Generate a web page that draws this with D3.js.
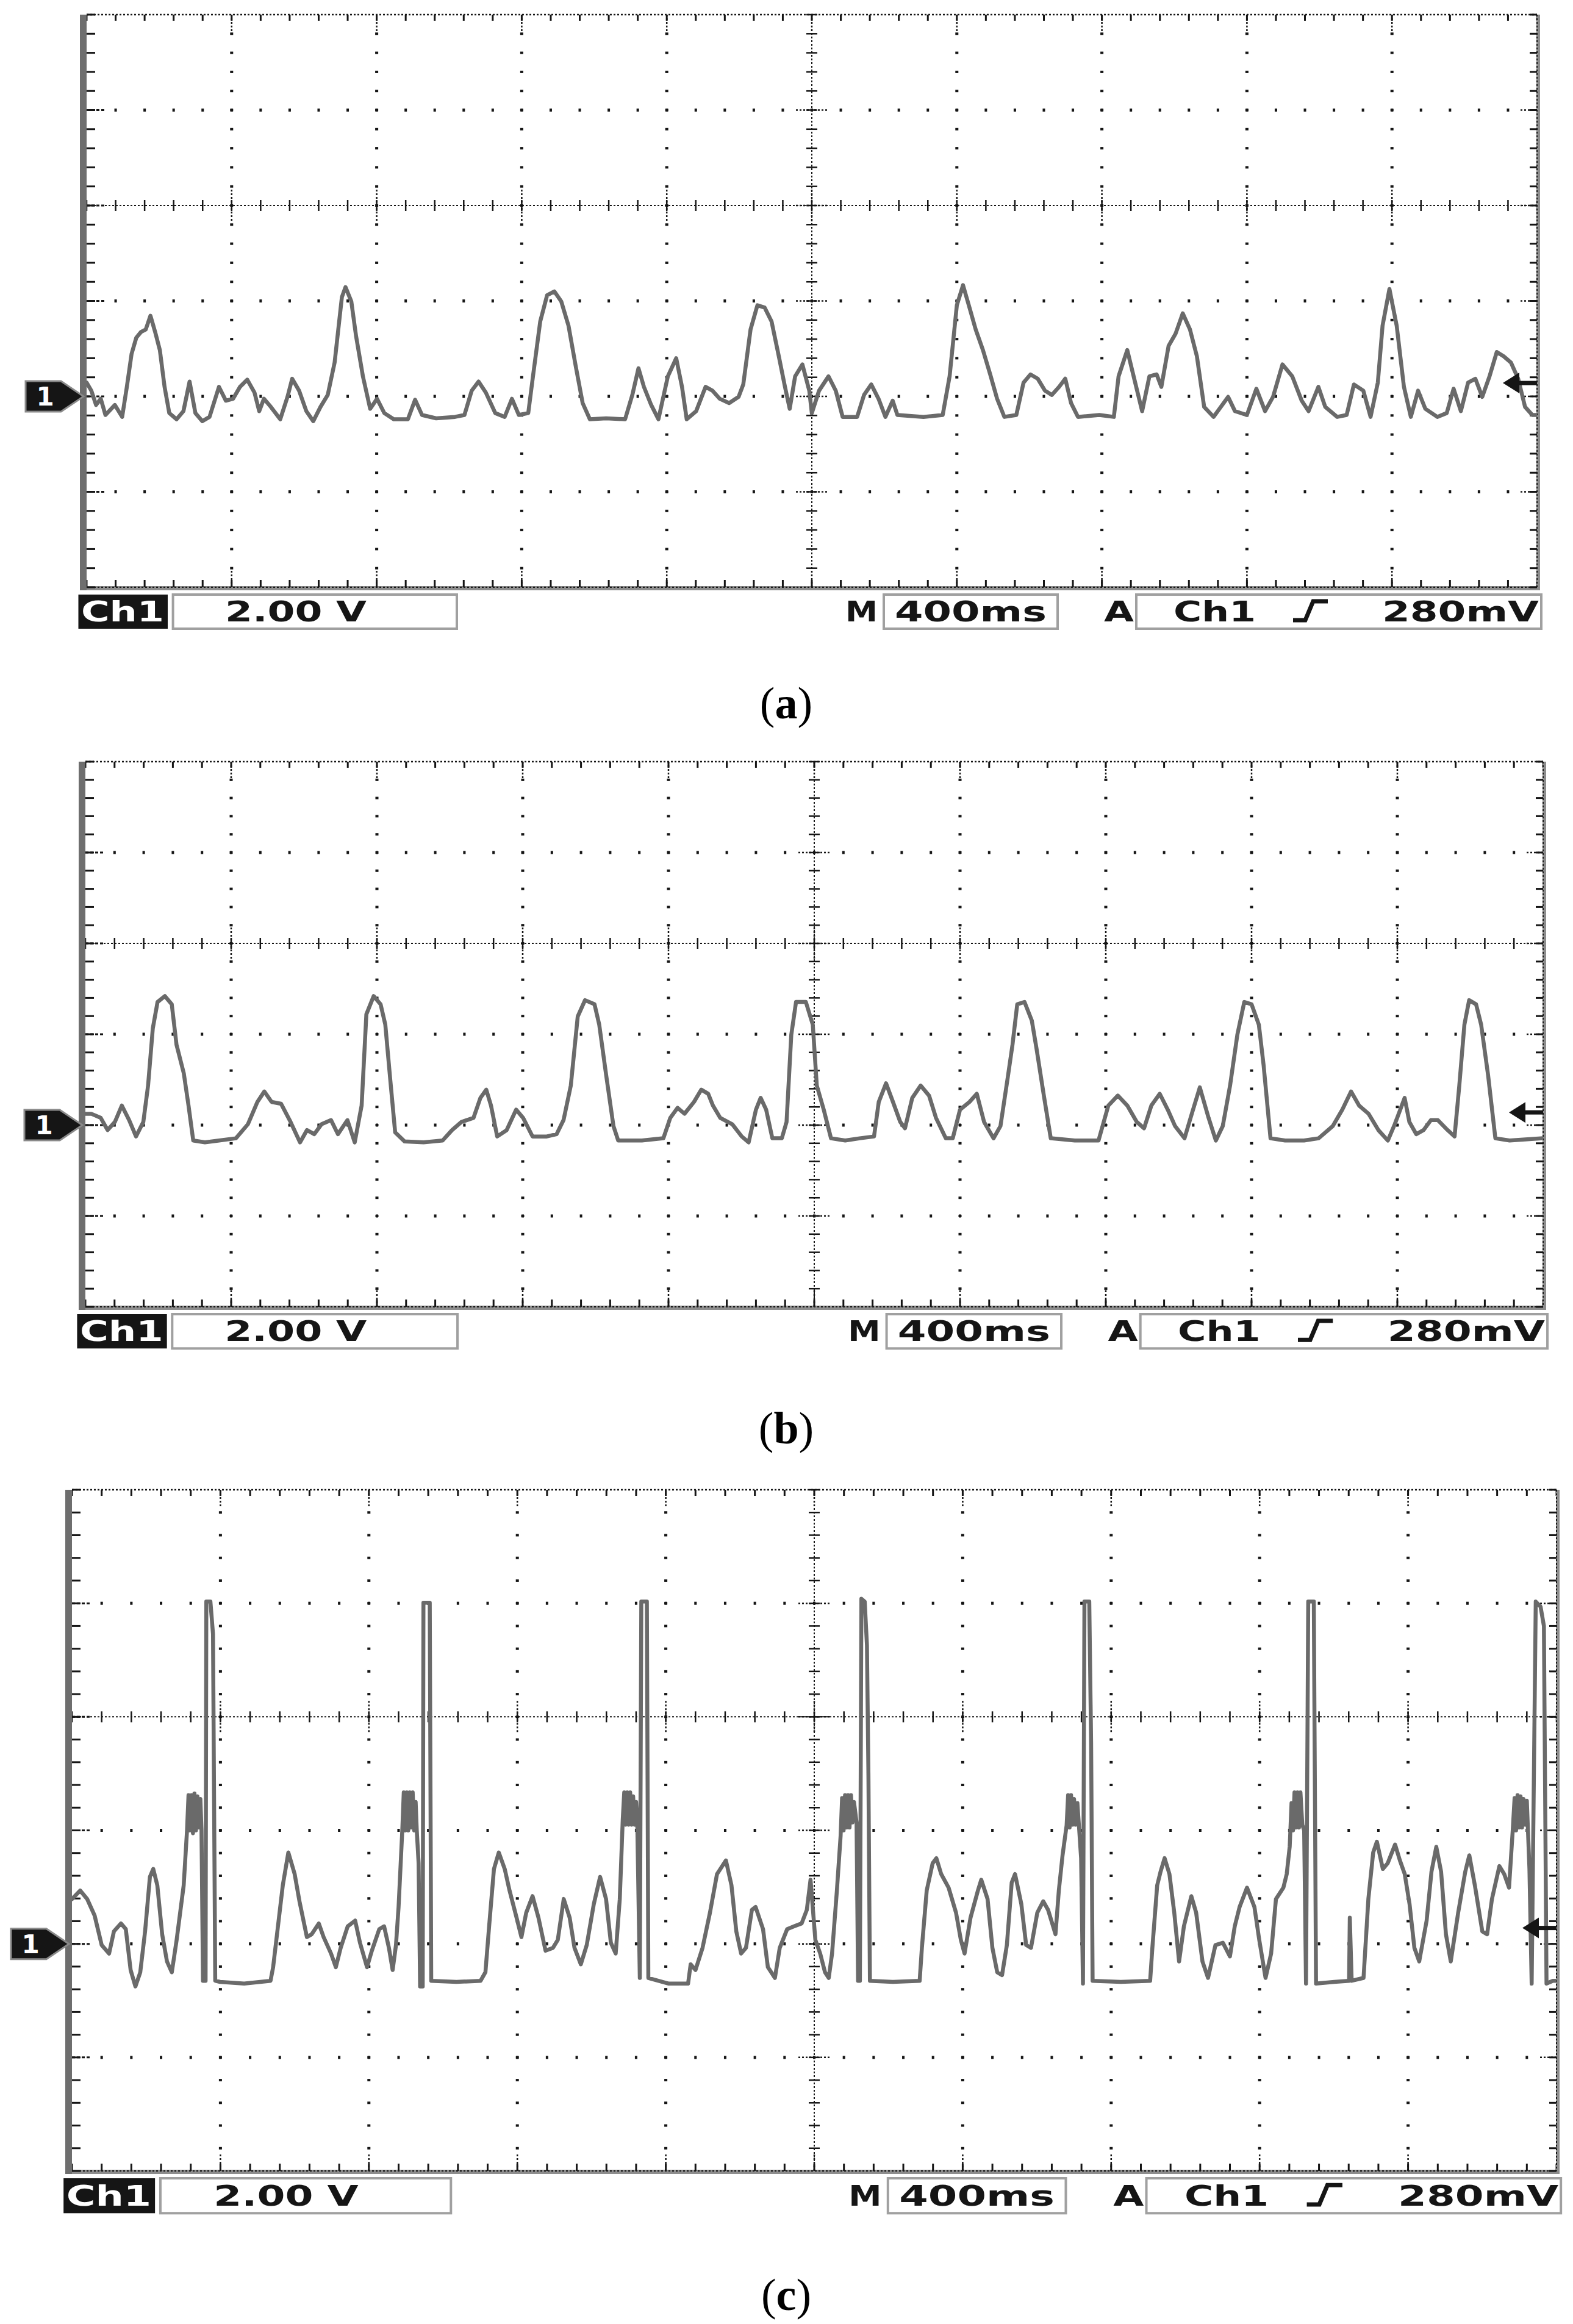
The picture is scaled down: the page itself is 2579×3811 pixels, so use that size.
<!DOCTYPE html>
<html><head><meta charset="utf-8">
<script src="https://cdn.jsdelivr.net/npm/d3@7/dist/d3.min.js"></script>
<style>html,body{margin:0;padding:0;background:#fff}</style>
</head><body>
<svg id="chart" width="2579" height="3811" xmlns="http://www.w3.org/2000/svg"></svg>
<script>
// ---- data: [time (s), voltage (V)] read from the three scope captures ----
const traceA = [[0.000,0.29],[0.013,0.12],[0.026,-0.18],[0.039,-0.05],[0.052,-0.39],[0.078,-0.18],[0.098,-0.43],[0.111,0.20],[0.124,0.89],[0.137,1.23],[0.150,1.35],[0.163,1.40],[0.176,1.69],[0.189,1.35],[0.202,0.97],[0.215,0.20],[0.228,-0.35],[0.248,-0.48],[0.267,-0.31],[0.284,0.31],[0.300,-0.35],[0.319,-0.52],[0.339,-0.43],[0.365,0.20],[0.384,-0.09],[0.404,-0.05],[0.423,0.20],[0.443,0.35],[0.463,0.08],[0.476,-0.31],[0.489,-0.05],[0.508,-0.22],[0.534,-0.48],[0.554,-0.01],[0.567,0.37],[0.586,0.12],[0.606,-0.31],[0.625,-0.52],[0.645,-0.22],[0.665,0.03],[0.684,0.71],[0.704,2.08],[0.714,2.29],[0.730,1.99],[0.743,1.27],[0.762,0.42],[0.782,-0.26],[0.801,-0.05],[0.821,-0.35],[0.847,-0.48],[0.886,-0.48],[0.906,-0.07],[0.925,-0.39],[0.964,-0.46],[1.016,-0.43],[1.042,-0.39],[1.062,0.12],[1.081,0.31],[1.101,0.08],[1.127,-0.35],[1.153,-0.43],[1.173,-0.05],[1.192,-0.39],[1.218,-0.35],[1.231,0.42],[1.251,1.57],[1.270,2.12],[1.290,2.20],[1.309,1.99],[1.329,1.48],[1.349,0.63],[1.368,-0.14],[1.388,-0.48],[1.433,-0.46],[1.485,-0.48],[1.505,0.03],[1.522,0.59],[1.537,0.20],[1.557,-0.18],[1.577,-0.48],[1.603,0.42],[1.626,0.80],[1.642,0.20],[1.655,-0.48],[1.681,-0.31],[1.707,0.20],[1.726,0.12],[1.746,-0.05],[1.772,-0.14],[1.798,-0.01],[1.811,0.25],[1.831,1.40],[1.850,1.91],[1.870,1.86],[1.889,1.57],[1.909,0.84],[1.926,0.20],[1.939,-0.26],[1.954,0.42],[1.974,0.67],[1.993,0.12],[2.000,-0.35],[2.020,0.12],[2.046,0.42],[2.066,0.12],[2.085,-0.43],[2.125,-0.43],[2.144,0.03],[2.164,0.25],[2.184,-0.05],[2.203,-0.43],[2.223,-0.09],[2.236,-0.39],[2.308,-0.43],[2.361,-0.39],[2.380,0.42],[2.400,1.91],[2.417,2.33],[2.433,1.91],[2.452,1.40],[2.472,0.97],[2.492,0.46],[2.511,-0.05],[2.531,-0.43],[2.564,-0.39],[2.584,0.29],[2.603,0.46],[2.623,0.37],[2.643,0.12],[2.662,0.03],[2.682,0.20],[2.699,0.37],[2.715,-0.14],[2.734,-0.43],[2.793,-0.39],[2.833,-0.43],[2.846,0.42],[2.870,0.97],[2.885,0.50],[2.911,-0.31],[2.931,0.42],[2.951,0.46],[2.964,0.20],[2.984,1.06],[3.003,1.31],[3.023,1.74],[3.043,1.40],[3.062,0.84],[3.082,-0.22],[3.108,-0.43],[3.148,-0.01],[3.167,-0.31],[3.200,-0.39],[3.226,0.16],[3.250,-0.31],[3.272,-0.01],[3.298,0.67],[3.325,0.42],[3.351,-0.09],[3.370,-0.31],[3.397,0.20],[3.416,-0.22],[3.449,-0.43],[3.475,-0.39],[3.495,0.25],[3.521,0.12],[3.541,-0.43],[3.561,0.29],[3.574,1.48],[3.593,2.25],[3.613,1.48],[3.633,0.20],[3.652,-0.43],[3.672,0.12],[3.692,-0.26],[3.725,-0.43],[3.751,-0.35],[3.770,0.16],[3.790,-0.31],[3.810,0.29],[3.830,0.37],[3.849,-0.01],[3.869,0.42],[3.889,0.93],[3.908,0.84],[3.928,0.71],[3.948,0.37],[3.967,-0.22],[3.987,-0.39],[4.000,-0.39]];

const traceB = [[0.000,0.25],[0.016,0.25],[0.042,0.16],[0.061,-0.11],[0.081,0.07],[0.100,0.43],[0.120,0.11],[0.139,-0.25],[0.159,0.07],[0.172,0.87],[0.185,2.13],[0.198,2.71],[0.218,2.84],[0.237,2.66],[0.250,1.77],[0.270,1.14],[0.283,0.43],[0.296,-0.34],[0.328,-0.38],[0.367,-0.34],[0.413,-0.29],[0.446,0.02],[0.472,0.51],[0.491,0.74],[0.511,0.51],[0.537,0.47],[0.563,0.07],[0.589,-0.38],[0.608,-0.11],[0.628,-0.20],[0.648,0.02],[0.674,0.11],[0.693,-0.20],[0.719,0.11],[0.739,-0.38],[0.758,0.43],[0.771,2.44],[0.791,2.84],[0.810,2.66],[0.823,2.21],[0.836,1.05],[0.850,-0.16],[0.876,-0.36],[0.928,-0.38],[0.980,-0.34],[1.006,-0.11],[1.032,0.07],[1.065,0.16],[1.084,0.60],[1.100,0.78],[1.113,0.43],[1.130,-0.25],[1.156,-0.11],[1.182,0.34],[1.201,0.16],[1.227,-0.25],[1.266,-0.25],[1.293,-0.20],[1.312,0.11],[1.332,0.87],[1.351,2.39],[1.371,2.75],[1.397,2.66],[1.410,2.21],[1.429,1.10],[1.449,-0.02],[1.462,-0.34],[1.527,-0.34],[1.586,-0.29],[1.605,0.16],[1.625,0.38],[1.644,0.25],[1.670,0.51],[1.690,0.78],[1.709,0.69],[1.722,0.43],[1.742,0.16],[1.775,0.02],[1.801,-0.25],[1.820,-0.38],[1.840,0.34],[1.853,0.60],[1.868,0.34],[1.885,-0.29],[1.911,-0.29],[1.924,0.07],[1.937,1.99],[1.950,2.71],[1.977,2.71],[1.996,2.21],[2.007,0.87],[2.026,0.34],[2.046,-0.29],[2.085,-0.34],[2.125,-0.29],[2.164,-0.25],[2.177,0.51],[2.197,0.92],[2.216,0.51],[2.236,0.07],[2.249,-0.07],[2.269,0.60],[2.292,0.87],[2.315,0.65],[2.334,0.16],[2.361,-0.29],[2.380,-0.29],[2.400,0.34],[2.426,0.51],[2.446,0.69],[2.466,0.07],[2.492,-0.29],[2.511,-0.02],[2.531,1.05],[2.544,1.77],[2.557,2.66],[2.577,2.71],[2.597,2.30],[2.610,1.68],[2.630,0.65],[2.649,-0.29],[2.715,-0.34],[2.780,-0.34],[2.807,0.43],[2.833,0.65],[2.859,0.43],[2.885,0.07],[2.905,-0.07],[2.925,0.43],[2.948,0.69],[2.970,0.34],[2.990,-0.02],[3.016,-0.29],[3.036,0.25],[3.058,0.83],[3.082,0.16],[3.102,-0.34],[3.121,-0.02],[3.141,0.87],[3.161,1.99],[3.180,2.71],[3.200,2.66],[3.220,2.21],[3.233,1.32],[3.252,-0.29],[3.292,-0.34],[3.344,-0.34],[3.384,-0.29],[3.423,-0.02],[3.449,0.34],[3.473,0.74],[3.495,0.43],[3.521,0.25],[3.548,-0.11],[3.574,-0.34],[3.593,0.02],[3.620,0.60],[3.633,0.07],[3.652,-0.20],[3.672,-0.11],[3.692,0.11],[3.711,0.11],[3.738,-0.11],[3.757,-0.25],[3.770,0.87],[3.784,2.21],[3.797,2.75],[3.816,2.66],[3.830,2.21],[3.849,1.10],[3.869,-0.29],[3.908,-0.34],[4.000,-0.29]];

const traceC = [[0.000,0.79],[0.022,0.94],[0.041,0.79],[0.061,0.50],[0.080,-0.02],[0.100,-0.17],[0.113,0.22],[0.132,0.36],[0.145,0.26],[0.158,-0.46],[0.171,-0.75],[0.184,-0.50],[0.197,0.22],[0.210,1.18],[0.219,1.32],[0.230,1.03],[0.243,0.17],[0.256,-0.31],[0.269,-0.50],[0.282,0.07],[0.301,1.03],
[0.310,2.00],[0.314,2.62],[0.318,2.00],[0.322,2.62],[0.326,1.95],[0.330,2.65],[0.334,2.00],[0.338,2.60],[0.342,2.05],[0.346,2.55],[0.349,2.00],
[0.353,-0.65],[0.360,-0.65],[0.362,6.03],[0.373,6.03],[0.380,5.46],[0.386,-0.65],[0.399,-0.67],[0.464,-0.70],[0.535,-0.65],[0.542,-0.41],[0.555,0.31],[0.568,1.03],[0.583,1.61],[0.600,1.23],[0.613,0.75],[0.633,0.12],[0.646,0.17],[0.665,0.36],[0.678,0.12],[0.698,-0.17],[0.711,-0.41],[0.724,-0.07],[0.743,0.31],[0.763,0.41],[0.776,0.02],[0.795,-0.41],[0.808,-0.12],[0.828,0.26],[0.841,0.31],[0.854,-0.07],[0.864,-0.46],[0.873,-0.02],[0.880,0.65],
[0.890,2.00],[0.894,2.67],[0.898,2.00],[0.902,2.67],[0.906,2.00],[0.910,2.67],[0.914,2.05],[0.918,2.67],[0.922,2.00],[0.926,2.50],[0.929,2.00],[0.934,1.42],
[0.938,-0.75],[0.945,-0.75],[0.947,6.01],[0.964,6.01],[0.968,-0.65],[1.036,-0.67],[1.101,-0.65],[1.114,-0.50],[1.124,0.31],[1.137,1.32],[1.150,1.61],[1.166,1.32],[1.179,0.94],[1.198,0.46],[1.211,0.12],[1.224,0.55],[1.241,0.84],[1.257,0.46],[1.276,-0.12],[1.296,-0.07],[1.309,0.07],[1.325,0.79],[1.341,0.46],[1.354,-0.07],[1.371,-0.36],[1.387,-0.02],[1.406,0.70],[1.423,1.18],[1.439,0.79],[1.452,0.02],[1.465,-0.17],[1.476,0.79],
[1.484,2.19],[1.488,2.67],[1.492,2.10],[1.496,2.67],[1.500,2.10],[1.504,2.67],[1.508,2.10],[1.512,2.60],[1.516,2.10],[1.520,2.50],[1.523,2.19],
[1.530,-0.60],[1.534,6.03],[1.549,6.03],[1.553,-0.60],[1.608,-0.70],[1.660,-0.70],[1.667,-0.36],[1.680,-0.46],[1.699,-0.07],[1.719,0.55],[1.738,1.23],[1.762,1.47],[1.777,1.03],[1.790,0.22],[1.803,-0.17],[1.816,-0.07],[1.832,0.60],[1.842,0.65],[1.862,0.26],[1.875,-0.41],[1.894,-0.60],[1.907,-0.07],[1.927,0.26],[1.946,0.31],[1.966,0.36],[1.980,0.60],[1.990,1.13],[2.003,0.07],[2.016,-0.17],[2.029,-0.50],[2.039,-0.60],[2.048,-0.17],[2.061,0.94],
[2.071,1.90],[2.075,2.57],[2.079,2.00],[2.083,2.62],[2.087,2.05],[2.091,2.62],[2.095,2.05],[2.099,2.62],[2.103,2.14],[2.107,2.50],[2.114,2.14],
[2.118,-0.65],[2.123,-0.65],[2.127,6.08],[2.136,6.03],[2.142,5.26],[2.146,2.96],[2.150,-0.65],[2.212,-0.67],[2.284,-0.65],[2.290,-0.07],[2.303,0.94],[2.319,1.42],[2.329,1.51],[2.342,1.23],[2.362,0.99],[2.382,0.55],[2.395,0.07],[2.405,-0.17],[2.421,0.46],[2.441,0.94],[2.450,1.13],[2.467,0.79],[2.480,-0.07],[2.493,-0.50],[2.506,-0.55],[2.519,-0.02],[2.532,1.08],[2.541,1.23],[2.558,0.70],[2.571,-0.02],[2.584,-0.07],[2.601,0.55],[2.617,0.75],[2.630,0.60],[2.650,0.17],[2.659,0.94],[2.669,1.56],
[2.680,2.09],[2.684,2.62],[2.688,2.05],[2.692,2.62],[2.696,2.10],[2.700,2.55],[2.704,2.10],[2.709,2.48],[2.714,2.00],[2.719,1.51],
[2.724,-0.70],[2.728,6.03],[2.741,6.03],[2.746,3.53],[2.750,-0.65],[2.826,-0.67],[2.905,-0.65],[2.911,-0.07],[2.924,1.03],[2.933,1.27],[2.944,1.51],[2.957,1.23],[2.970,0.55],[2.983,-0.31],[2.996,0.31],[3.016,0.84],[3.029,0.55],[3.046,-0.31],[3.061,-0.60],[3.081,-0.02],[3.101,0.02],[3.120,-0.22],[3.133,0.31],[3.146,0.65],[3.166,0.99],[3.186,0.65],[3.199,0.07],[3.216,-0.60],[3.231,-0.17],[3.244,0.79],[3.264,0.99],[3.273,1.23],
[3.281,1.71],[3.286,2.48],[3.290,2.00],[3.294,2.67],[3.298,2.05],[3.302,2.67],[3.306,2.05],[3.310,2.67],[3.315,2.10],[3.320,2.00],
[3.325,-0.70],[3.331,6.03],[3.346,6.03],[3.352,-0.70],[3.401,-0.67],[3.441,-0.65],[3.443,0.46],[3.448,-0.65],[3.480,-0.60],[3.493,0.79],[3.506,1.61],[3.516,1.80],[3.532,1.32],[3.545,1.42],[3.565,1.75],[3.578,1.47],[3.591,1.23],[3.604,0.70],[3.617,-0.07],[3.630,-0.31],[3.650,0.41],[3.663,1.27],[3.676,1.71],[3.689,1.27],[3.702,0.17],[3.715,-0.31],[3.735,0.55],[3.754,1.27],[3.765,1.56],[3.780,1.03],[3.800,0.22],[3.813,0.17],[3.826,0.79],[3.846,1.37],[3.859,1.23],[3.872,0.99],
[3.882,2.00],[3.887,2.57],[3.891,2.00],[3.895,2.62],[3.899,2.05],[3.903,2.60],[3.907,2.05],[3.911,2.55],[3.915,2.10],[3.920,2.52],[3.927,1.32],
[3.933,-0.70],[3.944,6.03],[3.957,5.94],[3.966,5.60],[3.973,-0.70],[3.990,-0.65],[4.000,-0.65]];

// graticule: 10 horizontal divisions of 400 ms, 6 vertical divisions of 2 V
const timeGrid = [0, 0.4, 0.8, 1.2, 1.6, 2.0, 2.4, 2.8, 3.2, 3.6, 4.0];
const voltGrid = [-4, -2, 0, 2, 4, 6, 8];
const captions = ["a", "b", "c"];
const chName = "Ch1";
const voltsPerDiv = "2.00 V";
const timebase = "400ms";
const trigLevelText = "280mV";
const trigLevel = 0.28;   // V
const groundLevel = 0;    // V

// ---- layout ----
const svg = d3.select('#chart');
svg.append('rect').attr('width', 2579).attr('height', 3811).attr('fill', '#fff');

const panels = [
  {trace: traceA, left: 142, right: 2520, top: 24,   bottom: 963,  capY: 1178},
  {trace: traceB, left: 140, right: 2530, top: 1249, bottom: 2143, capY: 2367},
  {trace: traceC, left: 118, right: 2552, top: 2443, bottom: 3560, capY: 3788}
];

const INK = '#151515';

function drawPanel(p, i) {
  const g = svg.append('g');
  const x = d3.scaleLinear().domain([timeGrid[0], timeGrid[timeGrid.length-1]]).range([p.left, p.right]);
  const y = d3.scaleLinear().domain([voltGrid[0], voltGrid[voltGrid.length-1]]).range([p.bottom, p.top]);
  const tStep = (timeGrid[1]-timeGrid[0]) / 5, vStep = (voltGrid[1]-voltGrid[0]) / 5;
  const tMinor = d3.range(0, 51).map(k => timeGrid[0] + k*tStep);
  const vMinor = d3.range(0, 31).map(k => voltGrid[0] + k*vStep);
  const tMid = timeGrid[5], vMid = voltGrid[4];
  const interiorT = timeGrid.slice(1, -1), interiorV = voltGrid.slice(1, -1);

  // dotted major grid lines
  interiorT.filter(t => t !== tMid).forEach(t => {
    g.selectAll(null).data(vMinor.slice(1, -1)).enter().append('rect')
      .attr('x', x(t)-2.5).attr('y', v => y(v)-2).attr('width', 5).attr('height', 4).attr('fill', INK);
  });
  interiorV.filter(v => v !== vMid).forEach(v => {
    g.selectAll(null).data(tMinor.slice(1, -1)).enter().append('rect')
      .attr('x', t => x(t)-2).attr('y', y(v)-2.5).attr('width', 4).attr('height', 5).attr('fill', INK);
  });

  // centre cross-hair lines with minor ticks
  g.append('line').attr('x1', p.left).attr('x2', p.right).attr('y1', y(vMid)).attr('y2', y(vMid))
    .attr('stroke', INK).attr('stroke-width', 2).attr('stroke-dasharray', '3,3');
  g.selectAll(null).data(tMinor).enter().append('line')
    .attr('x1', t => x(t)).attr('x2', t => x(t)).attr('y1', y(vMid)-9).attr('y2', y(vMid)+9)
    .attr('stroke', INK).attr('stroke-width', 2.5);
  g.selectAll(null).data(interiorT).enter().append('line')
    .attr('x1', t => x(t)).attr('x2', t => x(t)).attr('y1', y(vMid)-26).attr('y2', y(vMid)+26)
    .attr('stroke', INK).attr('stroke-width', 2.5).attr('stroke-dasharray', '3,3');
  g.append('line').attr('x1', x(tMid)).attr('x2', x(tMid)).attr('y1', p.top).attr('y2', p.bottom)
    .attr('stroke', INK).attr('stroke-width', 2).attr('stroke-dasharray', '3,3');
  g.selectAll(null).data(vMinor).enter().append('line')
    .attr('y1', v => y(v)).attr('y2', v => y(v)).attr('x1', x(tMid)-9).attr('x2', x(tMid)+9)
    .attr('stroke', INK).attr('stroke-width', 2.5);
  g.selectAll(null).data(interiorV).enter().append('line')
    .attr('y1', v => y(v)).attr('y2', v => y(v)).attr('x1', x(tMid)-26).attr('x2', x(tMid)+26)
    .attr('stroke', INK).attr('stroke-width', 2.5).attr('stroke-dasharray', '3,3');

  // frame
  g.append('line').attr('x1', p.left).attr('x2', p.right).attr('y1', p.top).attr('y2', p.top)
    .attr('stroke', INK).attr('stroke-width', 2.5).attr('stroke-dasharray', '3,3');
  g.selectAll(null).data(tMinor).enter().append('line')
    .attr('x1', t => x(t)).attr('x2', t => x(t)).attr('y1', p.top).attr('y2', p.top+10)
    .attr('stroke', INK).attr('stroke-width', 3);
  g.append('rect').attr('x', p.left).attr('y', p.bottom-2).attr('width', p.right-p.left+4).attr('height', 7).attr('fill', '#8d8d8d');
  g.append('line').attr('x1', p.left).attr('x2', p.right).attr('y1', p.bottom).attr('y2', p.bottom)
    .attr('stroke', INK).attr('stroke-width', 2).attr('stroke-dasharray', '3,3');
  g.selectAll(null).data(tMinor).enter().append('line')
    .attr('x1', t => x(t)).attr('x2', t => x(t)).attr('y1', p.bottom).attr('y2', p.bottom-12)
    .attr('stroke', INK).attr('stroke-width', 3);
  g.selectAll(null).data(interiorT).enter().append('line')
    .attr('x1', t => x(t)).attr('x2', t => x(t)).attr('y1', p.bottom).attr('y2', p.bottom-28)
    .attr('stroke', INK).attr('stroke-width', 2.5).attr('stroke-dasharray', '3,3');
  g.selectAll(null).data(interiorT).enter().append('line')
    .attr('x1', t => x(t)).attr('x2', t => x(t)).attr('y1', p.top).attr('y2', p.top+28)
    .attr('stroke', INK).attr('stroke-width', 2.5).attr('stroke-dasharray', '3,3');
  g.append('rect').attr('x', p.left-11).attr('y', p.top).attr('width', 11).attr('height', p.bottom-p.top+5).attr('fill', '#6e6e6e');
  g.selectAll(null).data(vMinor).enter().append('line')
    .attr('y1', v => y(v)).attr('y2', v => y(v)).attr('x1', p.left).attr('x2', p.left+14)
    .attr('stroke', INK).attr('stroke-width', 3);
  g.selectAll(null).data(interiorV).enter().append('line')
    .attr('y1', v => y(v)).attr('y2', v => y(v)).attr('x1', p.left).attr('x2', p.left+32)
    .attr('stroke', INK).attr('stroke-width', 3).attr('stroke-dasharray', '5,3');
  g.append('rect').attr('x', p.right-1).attr('y', p.top).attr('width', 6).attr('height', p.bottom-p.top+5).attr('fill', '#8d8d8d');
  g.append('line').attr('x1', p.right).attr('x2', p.right).attr('y1', p.top).attr('y2', p.bottom)
    .attr('stroke', INK).attr('stroke-width', 2).attr('stroke-dasharray', '3,3');
  g.selectAll(null).data(vMinor).enter().append('line')
    .attr('y1', v => y(v)).attr('y2', v => y(v)).attr('x1', p.right).attr('x2', p.right-12)
    .attr('stroke', INK).attr('stroke-width', 3);
  g.selectAll(null).data(interiorV).enter().append('line')
    .attr('y1', v => y(v)).attr('y2', v => y(v)).attr('x1', p.right).attr('x2', p.right-30)
    .attr('stroke', INK).attr('stroke-width', 2.5).attr('stroke-dasharray', '3,3');

  // waveform
  const clipId = 'clip' + i;
  svg.append('clipPath').attr('id', clipId).append('rect')
    .attr('x', p.left).attr('y', p.top).attr('width', p.right-p.left).attr('height', p.bottom-p.top);
  g.append('path').datum(p.trace)
    .attr('clip-path', `url(#${clipId})`)
    .attr('d', d3.line().x(d => x(d[0])).y(d => y(d[1])))
    .attr('fill', 'none').attr('stroke', '#6a6a6a').attr('stroke-width', 6.5)
    .attr('stroke-linejoin', 'round').attr('stroke-linecap', 'round');

  // ground marker "1"
  const gy = y(groundLevel), L = p.left;
  g.append('path')
    .attr('d', `M${L-100},${gy-25} L${L-42},${gy-25} L${L-5},${gy} L${L-42},${gy+25} L${L-100},${gy+25} Z`)
    .attr('fill', INK).attr('stroke', '#8a8a8a').attr('stroke-width', 3);
  g.append('text').attr('x', L-68).attr('y', gy+15).attr('text-anchor', 'middle')
    .attr('font-family', 'DejaVu Sans, sans-serif').attr('font-weight', 'bold').attr('font-size', 42)
    .attr('fill', '#fff').text('1');

  // trigger level arrow
  const ty = y(trigLevel), R = p.right;
  g.append('path').attr('d', `M${R-56},${ty} L${R-29},${ty-17} L${R-29},${ty+17} Z`).attr('fill', INK);
  g.append('rect').attr('x', R-32).attr('y', ty-3.5).attr('width', 32).attr('height', 7).attr('fill', INK);

  // readout strip
  const s = (p.right - p.left) / 2378;
  const top = p.bottom + 12, h = 56*s, fs = 46*s, base = top + h/2 + 16*s;
  const font = 'DejaVu Sans, sans-serif';
  function txt(xx, str, len, fill) {
    g.append('text').attr('x', xx).attr('y', base).attr('font-family', font).attr('font-weight', 'bold')
      .attr('font-size', fs).attr('fill', fill || INK)
      .attr('textLength', len).attr('lengthAdjust', 'spacingAndGlyphs').text(str);
  }
  function box(x0, w) {
    g.append('rect').attr('x', x0).attr('y', top).attr('width', w).attr('height', h)
      .attr('fill', 'none').attr('stroke', '#a0a0a0').attr('stroke-width', 4);
  }
  g.append('rect').attr('x', L-13.5*s).attr('y', top).attr('width', 146.5*s).attr('height', h).attr('fill', INK);
  txt(L-9*s, chName, 136*s, '#fff');
  box(L+141.6*s, 465.4*s);
  txt(L+227*s, voltsPerDiv, 232*s);
  txt(L+1244*s, 'M', 53*s);
  box(L+1307*s, 285*s);
  txt(L+1325*s, timebase, 249*s);
  txt(L+1668*s, 'A', 49*s);
  box(L+1721*s, 664*s);
  txt(L+1782*s, chName, 135*s);
  const sx0 = L+1978*s;
  g.append('path')
    .attr('d', `M${sx0},${base-2*s} H${sx0+20*s} L${sx0+33*s},${base-33*s} H${sx0+57*s}`)
    .attr('fill', 'none').attr('stroke', INK).attr('stroke-width', 7*s);
  txt(L+2124*s, trigLevelText, 257*s);

  // caption
  const cap = svg.append('text').attr('x', 1289).attr('y', p.capY).attr('text-anchor', 'middle')
    .attr('font-family', 'Liberation Serif, Times New Roman, serif').attr('font-size', 74).attr('fill', '#000');
  cap.append('tspan').text('(');
  cap.append('tspan').attr('font-weight', 'bold').text(captions[i]);
  cap.append('tspan').text(')');
}

panels.forEach(drawPanel);
</script>
</body></html>
